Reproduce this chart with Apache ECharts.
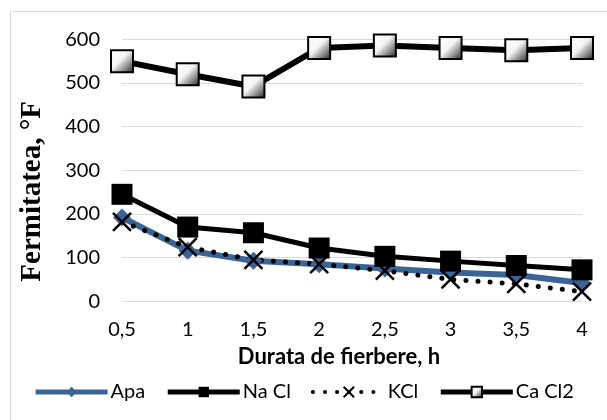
<!DOCTYPE html>
<html>
<head>
<meta charset="utf-8">
<script src="https://cdn.jsdelivr.net/npm/echarts@6/dist/echarts.min.js"></script>
<style>
  html, body { margin: 0; padding: 0; background: #fff; }
  #chart { width: 607px; height: 420px; }
</style>
</head>
<body>
<div id="chart"></div>
<script>
// Boiling time (h) on the x axis, hardness (°F) on the y axis
const categories = ['0,5', '1', '1,5', '2', '2,5', '3', '3,5', '4'];
const apa   = [192, 116, 93, 85, 75, 66, 60, 42];
const naCl  = [245, 170, 157, 122, 103, 92, 82, 72];
const kCl   = [182, 124, 95, 85, 70, 50, 40, 22];
const caCl2 = [550, 520, 492, 580, 586, 580, 575, 580];
const yTicks = { min: 0, max: 600, interval: 100 };

const FONT = 'Lato';
const chart = echarts.init(document.getElementById('chart'), null, { renderer: 'canvas' });

const crossPath = 'path://M0,0L10,10M10,0L0,10';
const whiteBoxFill = {
  type: 'linear', x: 0, y: 0, x2: 1, y2: 1,
  colorStops: [
    { offset: 0, color: '#ffffff' },
    { offset: 0.45, color: '#f4f4f4' },
    { offset: 1, color: '#1e1e1e' }
  ]
};

chart.setOption({
  animation: false,
  backgroundColor: '#ffffff',
  graphic: [{
    type: 'rect',
    shape: { x: 10.5, y: 11.5, width: 640, height: 440 },
    style: { fill: 'none', stroke: '#d9d9d9', lineWidth: 1 },
    silent: true, z: -1
  }],
  grid: { left: 122, right: 25, top: 39.3, bottom: 118.7, containLabel: false },
  legend: {
    bottom: 13,
    left: 'center',
    itemWidth: 72,
    itemHeight: 13,
    itemGap: 20,
    textStyle: { fontFamily: FONT, fontSize: 20, color: '#000', padding: [0, 0, 0, -2] },
    data: [
      { name: 'Apa', lineStyle: { width: 5 } },
      { name: 'Na Cl', lineStyle: { width: 5 } },
      { name: 'KCl', lineStyle: { width: 4 } },
      { name: 'Ca Cl2', lineStyle: { width: 5 } }
    ]
  },
  xAxis: {
    type: 'category',
    data: categories,
    boundaryGap: false,
    axisLine: { show: false },
    axisTick: { show: false },
    axisLabel: { margin: 18, fontFamily: FONT, fontSize: 20, color: '#000' },
    name: 'Durata de fierbere, h',
    nameLocation: 'middle',
    nameGap: 45,
    nameTextStyle: { fontFamily: FONT, fontSize: 22, fontWeight: 'bold', color: '#000', padding: [0, 26, 0, 0] }
  },
  yAxis: {
    type: 'value',
    min: yTicks.min, max: yTicks.max, interval: yTicks.interval,
    axisLine: { show: false },
    axisTick: { show: false },
    splitLine: { lineStyle: { color: '#d9d9d9', width: 1 } },
    axisLabel: { margin: 22, fontFamily: FONT, fontSize: 20, color: '#000' },
    name: 'Fermitatea, °F',
    nameLocation: 'middle',
    nameGap: 75,
    nameRotate: 90,
    nameTextStyle: { fontFamily: 'Liberation Serif', fontSize: 29, fontWeight: 'bold', color: '#000', padding: [0, 42, 0, 0] }
  },
  series: [
    {
      name: 'Apa', type: 'line', data: apa,
      symbol: 'diamond', symbolSize: 18,
      lineStyle: { color: '#3b6496', width: 6 },
      itemStyle: { color: '#3b6496' }
    },
    {
      name: 'Na Cl', type: 'line', data: naCl,
      symbol: 'rect', symbolSize: 21,
      lineStyle: { color: '#000', width: 5 },
      itemStyle: { color: '#000' }
    },
    {
      name: 'KCl', type: 'line', data: kCl,
      symbol: crossPath, symbolSize: 18,
      lineStyle: { color: '#000', width: 5, type: [0.1, 12], cap: 'round' },
      itemStyle: { color: 'transparent', borderColor: '#000', borderWidth: 2.5 }
    },
    {
      name: 'Ca Cl2', type: 'line', data: caCl2,
      symbol: 'rect', symbolSize: 22,
      lineStyle: { color: '#000', width: 6 },
      itemStyle: { color: whiteBoxFill, borderColor: '#000', borderWidth: 2 }
    }
  ]
});
</script>
</body>
</html>
